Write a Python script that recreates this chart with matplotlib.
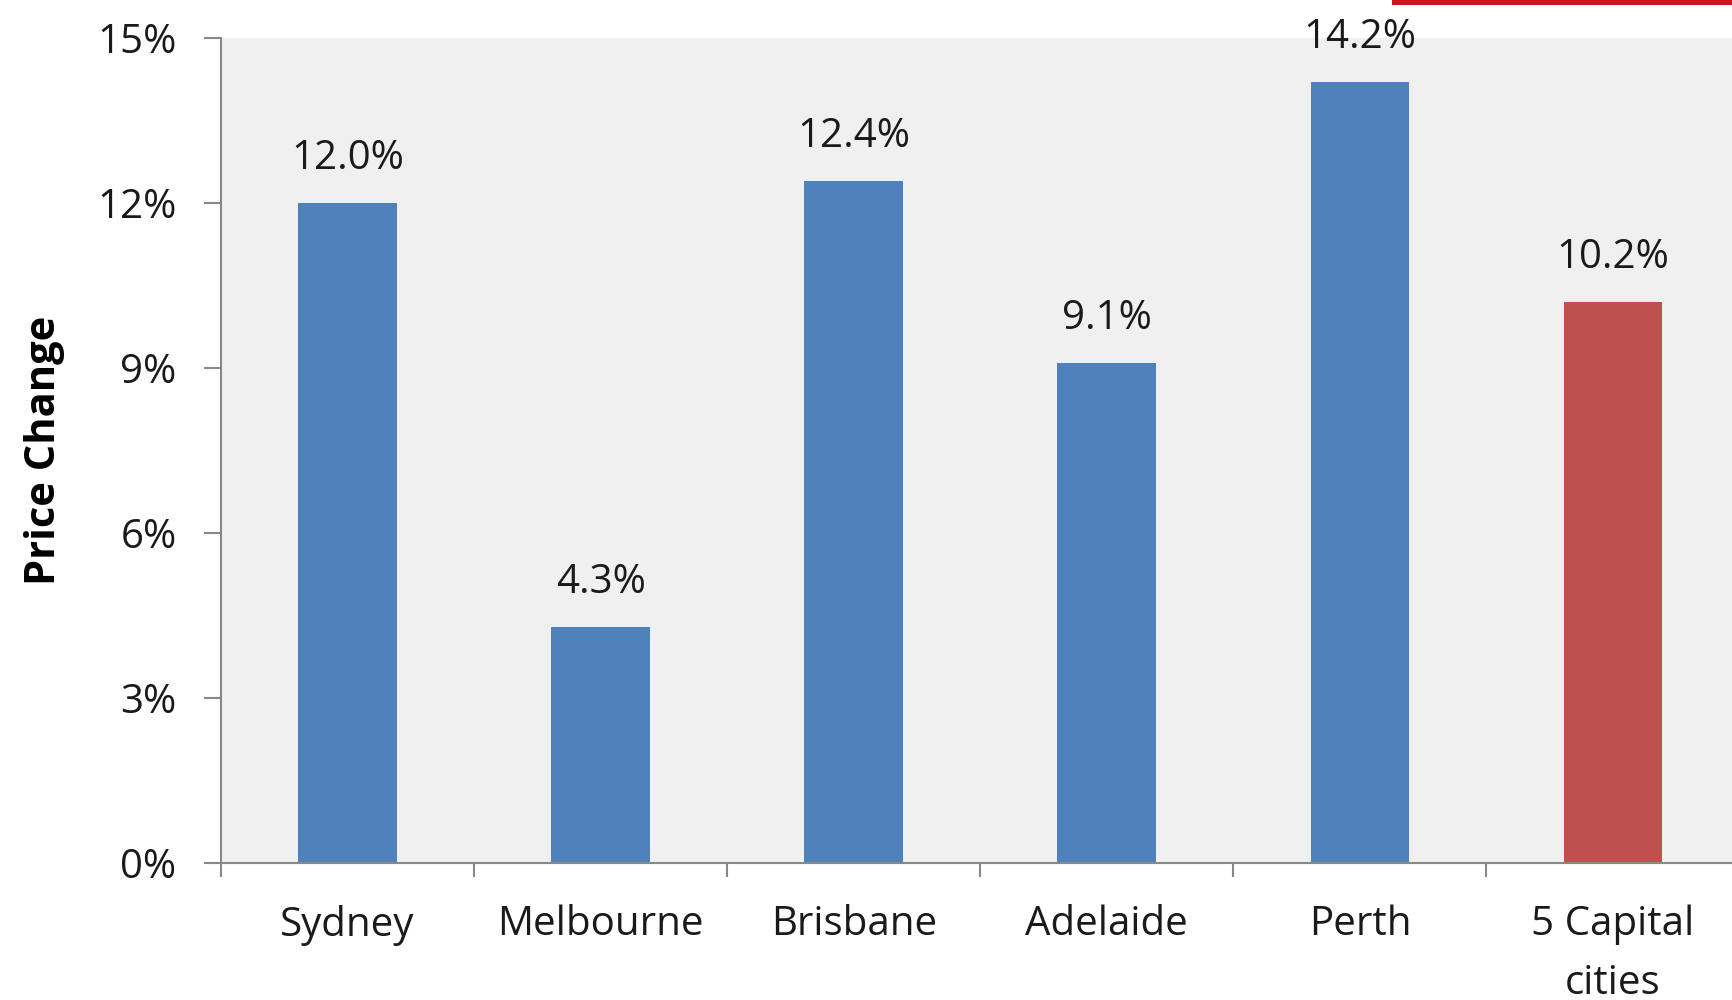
import matplotlib
matplotlib.use("Agg")
import matplotlib.pyplot as plt
from matplotlib.patches import Rectangle

plt.rcParams['font.family'] = ['Open Sans', 'DejaVu Sans']

# data
cities = ['Sydney', 'Melbourne', 'Brisbane', 'Adelaide', 'Perth', '5 Capital\ncities']
changes = [12.0, 4.3, 12.4, 9.1, 14.2, 10.2]
bar_colors = ['#4f81bd', '#4f81bd', '#4f81bd', '#4f81bd', '#4f81bd', '#c0504d']
y_ticks = [0, 3, 6, 9, 12, 15]

fig = plt.figure(figsize=(17.32, 10), dpi=100)
ax = fig.add_axes([0.1276, 0.137, 0.8724, 0.825])
ax.set_facecolor('#f0f0f0')

xs = list(range(len(cities)))
bars = ax.bar(xs, changes, width=0.39, color=bar_colors, zorder=2)

for bar, val in zip(bars, changes):
    ax.annotate(f'{val:.1f}%',
                xy=(bar.get_x() + bar.get_width() / 2, bar.get_height()),
                xytext=(0, 17), textcoords='offset points',
                ha='center', va='bottom', fontsize=29, color='#1a1a1a')

ax.set_ylim(0, 15)
ax.set_xlim(-0.5, 5.47)
ax.set_yticks(y_ticks)
ax.set_yticklabels([f'{t}%' for t in y_ticks], fontsize=29, color='#1a1a1a')

# category names centred, ticks on the category boundaries
ax.set_xticks(xs)
ax.set_xticklabels(cities, fontsize=29, color='#1a1a1a', linespacing=1.6, va='top')
ax.tick_params(axis='x', which='major', length=0, pad=30)
ax.set_xticks([x - 0.5 for x in xs], minor=True)
ax.tick_params(axis='x', which='minor', length=10, width=1.5, color='#888888', direction='out')
ax.tick_params(axis='y', length=12, width=1.5, color='#888888', pad=20)

ax.set_ylabel('Price Change', fontsize=30, fontweight='bold', labelpad=23)

for side in ['top', 'right']:
    ax.spines[side].set_visible(False)
for side in ['left', 'bottom']:
    ax.spines[side].set_color('#888888')
    ax.spines[side].set_linewidth(1.5)

# red strip cut off at the top right of the reference
fig.patches.append(Rectangle((0.8037, 0.995), 0.2, 0.01, transform=fig.transFigure,
                             facecolor='#d0141c', edgecolor='none'))

fig.savefig('out.png', dpi=100)
